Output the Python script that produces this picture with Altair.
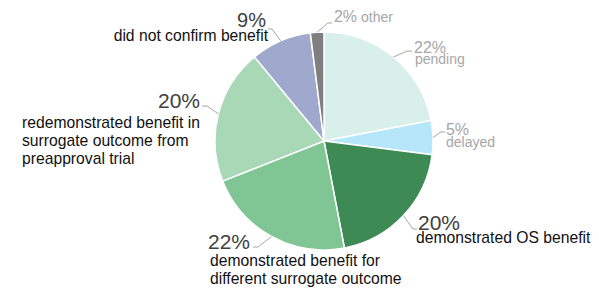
import math
import altair as alt
import pandas as pd

# ---- data ----
categories = [
    "pending",
    "delayed",
    "demonstrated OS benefit",
    "demonstrated benefit for different surrogate outcome",
    "redemonstrated benefit in surrogate outcome from preapproval trial",
    "did not confirm benefit",
    "other",
]
shares = [22, 5, 20, 22, 20, 9, 2]
pct_labels = ["22%", "5%", "20%", "22%", "20%", "9%", "2%"]
cat_labels = [
    "pending",
    "delayed",
    "demonstrated OS benefit",
    "demonstrated benefit for\ndifferent surrogate outcome",
    "redemonstrated benefit in\nsurrogate outcome from\npreapproval trial",
    "did not confirm benefit",
    "other",
]
colors = ["#d9f0ea", "#b5e6fa", "#3d8a55", "#80c594", "#a9d8b7", "#9fa9ce", "#7f7f7f"]

# ---- layout / style ----
W, H = 583, 280
CX, CY, R = 316, 133, 109
GRAY = "#a6a6a6"
DARK = "#404040"
BLACK = "#111111"
FONT = "Liberation Sans"

# elbow/end offsets from slice edge; text offsets from leader end
style = {
    "pending": dict(elbow=(13.5, -5.9), end=(18.5, -5.9),
                    pct=(2, 1.7, "left", 16, GRAY), lab=(3, 12.5, "left", 14, GRAY)),
    "delayed": dict(elbow=(8, -5.6), end=(12, -5.6),
                    pct=(1, 3, "left", 16, GRAY), lab=(1, 15, "left", 14, GRAY)),
    "demonstrated OS benefit": dict(elbow=(9.5, 13.4), end=(13.5, 13.4),
                    pct=(1, 1, "left", 21, DARK), lab=(-1, 14, "left", 15.7, BLACK)),
    "demonstrated benefit for different surrogate outcome": dict(elbow=(-13.5, 10.5), end=(-18.5, 10.5),
                    pct=(-3, 2, "right", 21, DARK), lab=(-43, 19, "left", 15.7, BLACK)),
    "redemonstrated benefit in surrogate outcome from preapproval trial": dict(elbow=(-11.4, -7.9), end=(-16.4, -7.9),
                    pct=(-2, 2, "right", 21, DARK), lab=(-180, 22, "left", 15.7, BLACK)),
    "did not confirm benefit": dict(elbow=(-8.7, -12), end=(-12.7, -12),
                    pct=(-2, -2, "right", 20, DARK), lab=(0, 12, "right", 15.7, BLACK)),
    "other": dict(elbow=(10.8, -9.2), end=(14.8, -9.2),
                    pct=(2, -1, "left", 16, GRAY), lab=(29, -1, "left", 14, GRAY)),
}

total = sum(shares)
pie_df = pd.DataFrame({"cat": categories, "share": shares, "idx": list(range(len(categories)))})

line_rows, text_rows = [], []
cum = 0
for i, (c, s) in enumerate(zip(categories, shares)):
    mid = (cum + s / 2) / total * 2 * math.pi
    cum += s
    ex, ey = CX + R * math.sin(mid), CY - R * math.cos(mid)
    st = style[c]
    bx, by = ex + st["elbow"][0], ey + st["elbow"][1]
    nx, ny = ex + st["end"][0], ey + st["end"][1]
    for o, (px, py) in enumerate([(ex, ey), (bx, by), (nx, ny)]):
        line_rows.append({"cat": c, "o": o, "x": px, "y": py})
    p = st["pct"]
    text_rows.append({"t": pct_labels[i], "x": nx + p[0], "y": ny + p[1], "align": p[2], "fs": p[3], "col": p[4]})
    l = st["lab"]
    text_rows.append({"t": cat_labels[i], "x": nx + l[0], "y": ny + l[1], "align": l[2], "fs": l[3], "col": l[4]})

line_df = pd.DataFrame(line_rows)
text_df = pd.DataFrame(text_rows)

pie = alt.Chart(pie_df).mark_arc(outerRadius=R, stroke="white", strokeWidth=1.5).encode(
    theta=alt.Theta("share:Q", stack=True),
    color=alt.Color("cat:N", scale=alt.Scale(domain=categories, range=colors), legend=None),
    order=alt.Order("idx:Q"),
    x=alt.value(CX),
    y=alt.value(CY),
)

leaders = alt.Chart(line_df).mark_line(color=GRAY, strokeWidth=1).encode(
    x=alt.X("x:Q", scale=None, axis=None),
    y=alt.Y("y:Q", scale=None, axis=None),
    detail="cat:N",
    order="o:Q",
)

layers = [pie, leaders]
for a in ["left", "right"]:
    sub = text_df[text_df["align"] == a]
    layers.append(
        alt.Chart(sub).mark_text(align=a, baseline="alphabetic", font=FONT, lineBreak="\n", lineHeight=18).encode(
            x=alt.X("x:Q", scale=None, axis=None),
            y=alt.Y("y:Q", scale=None, axis=None),
            text="t:N",
            size=alt.Size("fs:Q", scale=None, legend=None),
            color=alt.Color("col:N", scale=None, legend=None),
        )
    )

chart = alt.layer(*layers).properties(
    width=W, height=H, autosize=alt.AutoSizeParams(type="none"), padding=0
).configure_view(stroke=None)

chart.save("out.html", embed_options={"renderer": "svg", "actions": False})
